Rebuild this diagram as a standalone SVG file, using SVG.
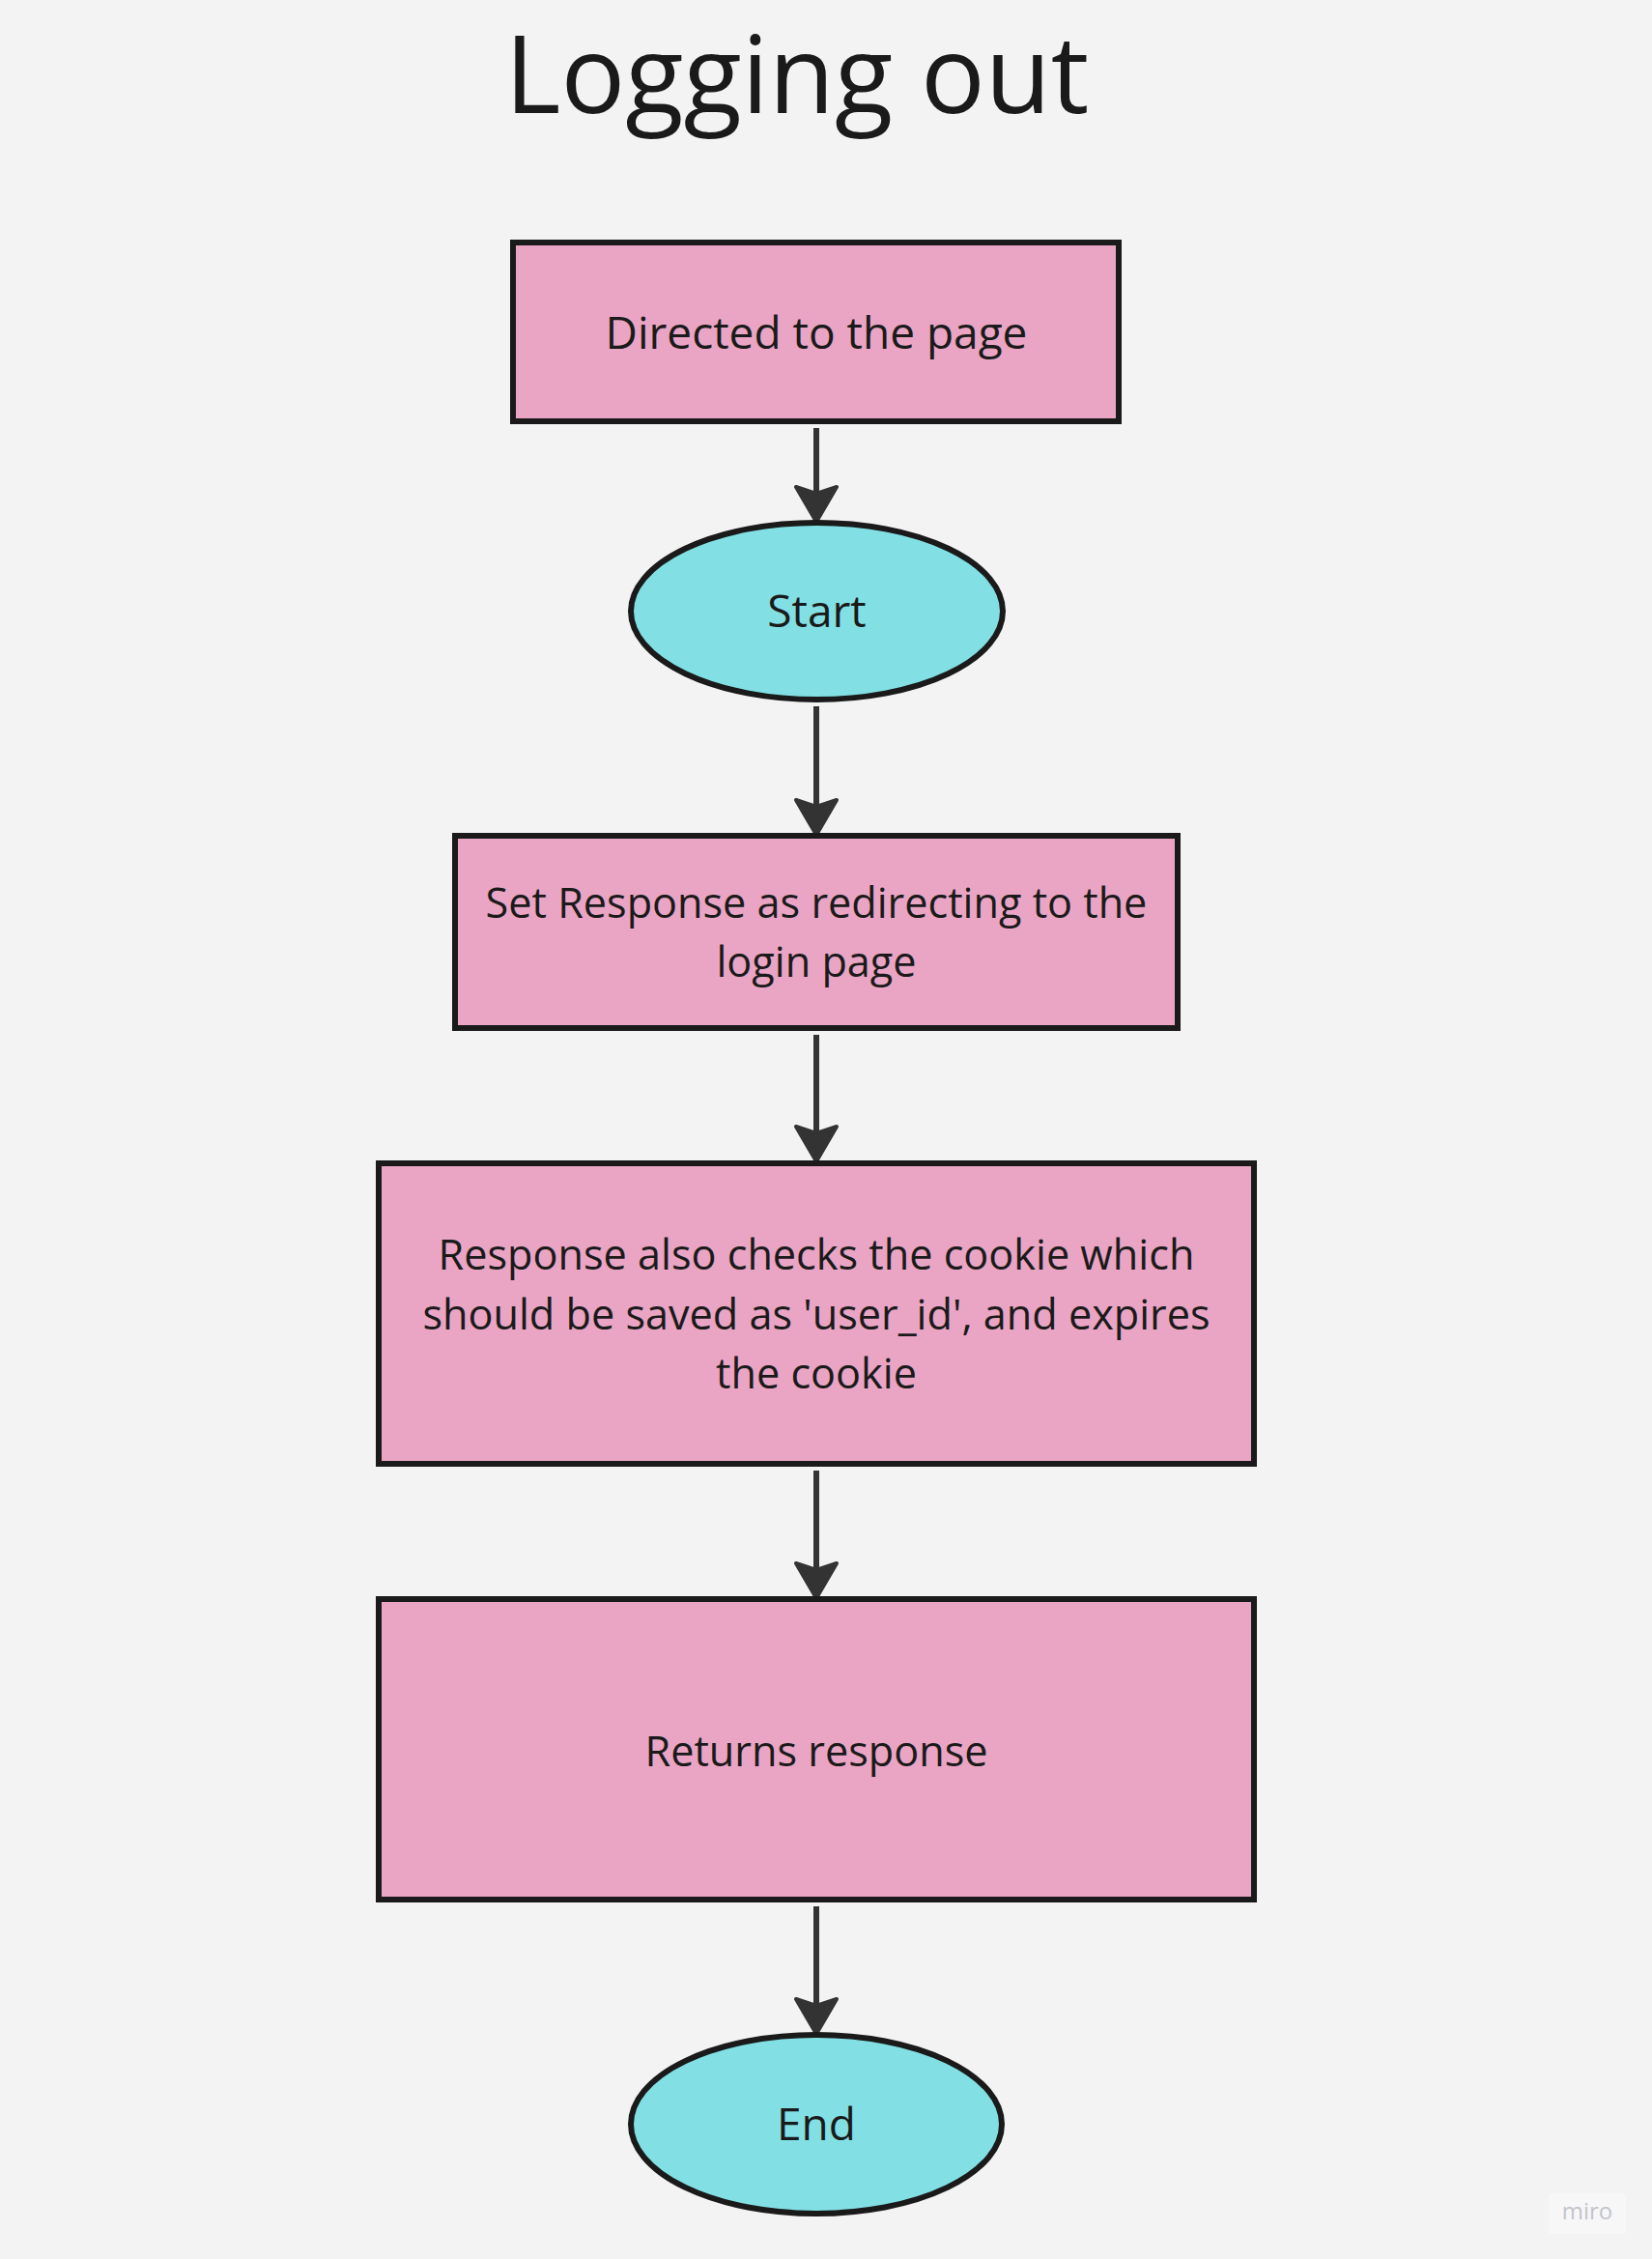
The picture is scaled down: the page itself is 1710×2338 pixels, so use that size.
<svg xmlns="http://www.w3.org/2000/svg" width="1710" height="2338" viewBox="0 0 1710 2338">
<style>
.bg{fill:#f3f3f3}
.box{fill:#eaa5c4;stroke:#1a1a1a;stroke-width:6}
.oval{fill:#82e0e4;stroke:#1a1a1a;stroke-width:6}
.lbl{font-family:"Open Sans","Noto Sans","DejaVu Sans",sans-serif;font-size:46px;fill:#1a1a1a;text-anchor:middle}
.sm{font-size:43.2px}
.title{font-family:"Open Sans","Noto Sans","DejaVu Sans",sans-serif;font-size:111px;fill:#1a1a1a;text-anchor:middle}
.conn{stroke:#333333;stroke-width:6;fill:none}
.wm{font-family:"Open Sans","Noto Sans","DejaVu Sans",sans-serif;font-size:24px;fill:#c4c4cc;text-anchor:middle}
</style>
<defs>
<marker id="ah" markerUnits="userSpaceOnUse" viewBox="0 0 50 50" markerWidth="50" markerHeight="50" refX="13" refY="25" orient="auto">
<path d="M42,25 L6,4 L13,25 L6,46 Z" fill="#333333" stroke="#333333" stroke-width="4" stroke-linejoin="round"/>
</marker>
</defs>
<rect class="bg" x="0" y="0" width="1710" height="2338"/>
<text class="title" x="825" y="117">Logging out</text>
<g id="connectors">
<line class="conn" x1="845" y1="443" x2="845" y2="511" marker-end="url(#ah)"/>
<line class="conn" x1="845" y1="731" x2="845" y2="835" marker-end="url(#ah)"/>
<line class="conn" x1="845" y1="1071" x2="845" y2="1173" marker-end="url(#ah)"/>
<line class="conn" x1="845" y1="1522" x2="845" y2="1625" marker-end="url(#ah)"/>
<line class="conn" x1="845" y1="1973" x2="845" y2="2076" marker-end="url(#ah)"/>
</g>
<g id="node-directed">
<rect class="box" x="531" y="251" width="627" height="185"/>
<text class="lbl" x="845" y="361">Directed to the page</text>
</g>
<g id="node-start">
<ellipse class="oval" cx="845.5" cy="632.5" rx="192.5" ry="91.5"/>
<text class="lbl" x="845.5" y="649">Start</text>
</g>
<g id="node-set-response">
<rect class="box" x="471" y="865" width="748" height="199"/>
<text class="lbl sm" x="845" y="950">Set Response as redirecting to the</text>
<text class="lbl sm" x="845" y="1011">login page</text>
</g>
<g id="node-cookie">
<rect class="box" x="392" y="1204" width="906" height="311"/>
<text class="lbl sm" x="845" y="1314">Response also checks the cookie which</text>
<text class="lbl sm" x="845" y="1376">should be saved as 'user_id', and expires</text>
<text class="lbl sm" x="845" y="1437">the cookie</text>
</g>
<g id="node-returns">
<rect class="box" x="392" y="1655" width="906" height="311"/>
<text class="lbl sm" x="845" y="1828">Returns response</text>
</g>
<g id="node-end">
<ellipse class="oval" cx="845" cy="2198.5" rx="192" ry="92.5"/>
<text class="lbl" x="845" y="2215">End</text>
</g>
<rect x="1603" y="2270" width="80" height="42" rx="4" fill="#f7f7f7"/>
<text class="wm" x="1643" y="2297">miro</text>
</svg>
